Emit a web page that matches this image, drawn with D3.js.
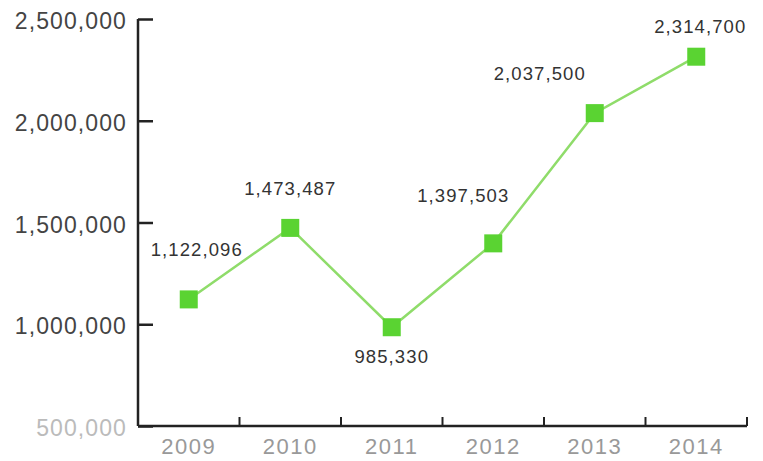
<!DOCTYPE html>
<html>
<head>
<meta charset="utf-8">
<script src="https://cdn.jsdelivr.net/npm/d3@7"></script>
<style>
  body { margin: 0; background: #fff; }
  svg text { font-family: "Liberation Sans", Arial, sans-serif; }
</style>
</head>
<body>
<svg id="chart" width="763" height="461"></svg>
<script>
// data
var years = ["2009", "2010", "2011", "2012", "2013", "2014"];
var values = [1122096, 1473487, 985330, 1397503, 2037500, 2314700];
var yTicks = [500000, 1000000, 1500000, 2000000, 2500000];

// where each value label sits relative to its point [dx, dy]
var labelOffsets = [[8, -43], [0, -33], [0, 36], [-30, -41], [-55, -33], [4, -24]];

var svg = d3.select("#chart");
// note: "top" is taken by window.top, so plot edges get their own names
var plotLeft = 138, plotRight = 747, plotTop = 19, plotBottom = 426;

var x = d3.scaleBand().domain(years).range([plotLeft, plotRight]);
var y = d3.scaleLinear().domain([500000, 2500000]).range([plotBottom, plotTop]);
var fmt = d3.format(",");

// y axis
var yAxis = svg.append("g")
    .attr("transform", "translate(" + plotLeft + ",0)")
    .call(d3.axisRight(y).tickValues(yTicks).tickSize(15).tickFormat(""));
yAxis.select(".domain").attr("stroke", "#222").attr("stroke-width", 2.5)
    .attr("d", "M0," + plotTop + "V" + plotBottom);
yAxis.selectAll(".tick line").attr("stroke", "#222").attr("stroke-width", 2.5);

svg.append("g").selectAll("text")
    .data(yTicks)
    .enter().append("text")
    .attr("x", 127)
    .attr("y", function(d) { return y(d) + 10; })
    .attr("text-anchor", "end")
    .attr("font-size", "23px")
    .attr("letter-spacing", "1.1px")
    .attr("fill", function(d) { return d === 500000 ? "#bbb" : "#444"; })
    .text(function(d) { return fmt(d); });

// x axis
var xAxis = svg.append("g")
    .attr("transform", "translate(0," + plotBottom + ")");
xAxis.append("line")
    .attr("x1", plotLeft).attr("x2", plotRight)
    .attr("stroke", "#222").attr("stroke-width", 2.5);
xAxis.selectAll("line.tick")
    .data(years)
    .enter().append("line")
    .attr("class", "tick")
    .attr("x1", function(d) { return x(d) + x.bandwidth(); })
    .attr("x2", function(d) { return x(d) + x.bandwidth(); })
    .attr("y1", 0).attr("y2", -9)
    .attr("stroke", "#222").attr("stroke-width", 2);
xAxis.selectAll("text")
    .data(years)
    .enter().append("text")
    .attr("x", function(d) { return x(d) + x.bandwidth() / 2; })
    .attr("y", 28)
    .attr("text-anchor", "middle")
    .attr("font-size", "22px")
    .attr("letter-spacing", "1.5px")
    .attr("fill", "#999")
    .text(function(d) { return d; });

// line + markers
var cx = function(d, i) { return x(years[i]) + x.bandwidth() / 2; };

var line = d3.line()
    .x(cx)
    .y(function(d) { return y(d); });

svg.append("path")
    .datum(values)
    .attr("d", line)
    .attr("fill", "none")
    .attr("stroke", "#8fdc6a")
    .attr("stroke-width", 2.5);

svg.selectAll("rect.pt")
    .data(values)
    .enter().append("rect")
    .attr("class", "pt")
    .attr("x", function(d, i) { return cx(d, i) - 9; })
    .attr("y", function(d) { return y(d) - 9; })
    .attr("width", 18).attr("height", 18)
    .attr("fill", "#5ad332");

svg.selectAll("text.val")
    .data(values)
    .enter().append("text")
    .attr("class", "val")
    .attr("x", function(d, i) { return cx(d, i) + labelOffsets[i][0]; })
    .attr("y", function(d, i) { return y(d) + labelOffsets[i][1]; })
    .attr("text-anchor", "middle")
    .attr("font-size", "18.5px")
    .attr("letter-spacing", "1.1px")
    .attr("fill", "#333")
    .text(function(d) { return fmt(d); });
</script>
</body>
</html>
